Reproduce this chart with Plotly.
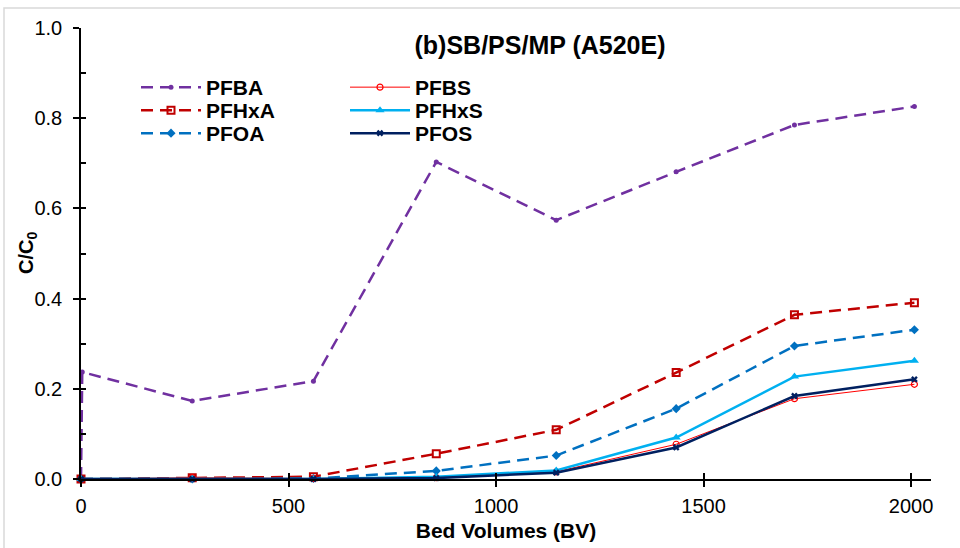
import plotly.graph_objects as go

# ---- data ----
bv = [0, 268, 560, 856, 1145, 1434, 1719, 2008]
bv_pfba = [0, 3, 268, 560, 856, 1145, 1434, 1719, 2008]
pfba = [0.0, 0.237, 0.173, 0.217, 0.703, 0.574, 0.681, 0.785, 0.826]
pfhxa = [0.0, 0.003, 0.005, 0.056, 0.109, 0.236, 0.364, 0.391]
pfoa = [0.0, 0.0, 0.001, 0.018, 0.052, 0.156, 0.295, 0.331]
pfbs = [0.0, 0.003, 0.001, 0.003, 0.016, 0.077, 0.178, 0.210]
pfhxs = [0.0, 0.0, 0.0, 0.005, 0.019, 0.092, 0.227, 0.262]
pfos = [0.0, 0.0, 0.0, 0.002, 0.014, 0.070, 0.184, 0.221]

title_text = "<b>(b)SB/PS/MP (A520E)</b>"
x_title = "<b>Bed Volumes (BV)</b>"
y_title = "<b>C/C<sub>0</sub></b>"

FONT = "Liberation Sans, Arial, sans-serif"

W, H = 960, 548
ML, MR, MT, MB = 81, 29, 28, 69
PW = W - ML - MR
PH = H - MT - MB


def px_x(p):
    return (p - ML) / PW


def px_y(p):
    return (H - MB - p) / PH


fig = go.Figure()

fig.add_trace(go.Scatter(
    x=bv_pfba, y=pfba, name="PFBA", mode="lines+markers", legend="legend",
    line=dict(color="#7030A0", width=2.5, dash="12px,7px"),
    marker=dict(symbol="circle", size=5, color="#7030A0"), cliponaxis=False))
fig.add_trace(go.Scatter(
    x=bv, y=pfhxa, name="PFHxA", mode="lines+markers", legend="legend2",
    line=dict(color="#C00000", width=2.5, dash="12px,7px"),
    marker=dict(symbol="square-open", size=7, color="#C00000", line=dict(width=2)),
    cliponaxis=False))
fig.add_trace(go.Scatter(
    x=bv, y=pfoa, name="PFOA", mode="lines+markers", legend="legend3",
    line=dict(color="#0070C0", width=2.5, dash="12px,7px"),
    marker=dict(symbol="diamond", size=7, color="#0070C0"), cliponaxis=False))
fig.add_trace(go.Scatter(
    x=bv, y=pfbs, name="PFBS", mode="lines+markers", legend="legend4",
    line=dict(color="#FF0000", width=1),
    marker=dict(symbol="circle-open", size=6, color="#FF0000", line=dict(width=1.2)),
    cliponaxis=False))
fig.add_trace(go.Scatter(
    x=bv, y=pfhxs, name="PFHxS", mode="lines+markers", legend="legend5",
    line=dict(color="#00B0F0", width=2.5),
    marker=dict(symbol="triangle-up", size=8, color="#00B0F0"), cliponaxis=False))
fig.add_trace(go.Scatter(
    x=bv, y=pfos, name="PFOS", mode="lines+markers", legend="legend6",
    line=dict(color="#002060", width=2.5),
    marker=dict(symbol="x", size=6, color="#002060"), cliponaxis=False))

# invisible trace to anchor the overlay axes (for crossing ticks)
fig.add_trace(go.Scatter(x=[], y=[], xaxis="x2", yaxis="y2", showlegend=False,
                         hoverinfo="skip"))

XR = [0, 2048]
YR = [0, 1.0]

LEG_FONT = dict(family=FONT, size=21, color="black", weight="bold")


def leg(text_px_x, center_px_y):
    return dict(x=px_x(text_px_x - 71), y=px_y(center_px_y - 21),
                xanchor="left", yanchor="top", bgcolor="rgba(0,0,0,0)",
                itemwidth=60, tracegroupgap=0, font=LEG_FONT)


fig.update_layout(
    width=W, height=H,
    margin=dict(l=ML, r=MR, t=MT, b=MB, autoexpand=False),
    paper_bgcolor="white", plot_bgcolor="white",
    font=dict(family=FONT, color="black", size=20),
    title=dict(text=title_text, xref="paper", x=px_x(540), xanchor="center",
               yref="container", y=1 - 45 / H, yanchor="middle",
               font=dict(family=FONT, size=25, color="black")),
    xaxis=dict(range=XR, dtick=500, tick0=0, showgrid=False, zeroline=False,
               showline=True, linecolor="black", linewidth=1.5, automargin=False,
               ticks="outside", ticklen=6, tickwidth=1.5, tickcolor="black",
               ticklabelstandoff=2,
               tickfont=dict(family=FONT, size=20, color="black"),
               title=dict(text=x_title, standoff=8,
                          font=dict(family=FONT, size=21, color="black"))),
    yaxis=dict(range=YR, dtick=0.2, tick0=0, tickformat=".1f", showgrid=False,
               zeroline=False, showline=True, linecolor="black", linewidth=1.5,
               automargin=False,
               ticks="outside", ticklen=6, tickwidth=1.5, tickcolor="black",
               ticklabelstandoff=7,
               tickfont=dict(family=FONT, size=20, color="black")),
    xaxis2=dict(range=XR, dtick=500, tick0=0, overlaying="x", anchor="y2",
                showgrid=False, zeroline=False, showline=False, automargin=False,
                ticks="inside", ticklen=6, tickwidth=1.5, tickcolor="black",
                showticklabels=False),
    yaxis2=dict(range=YR, dtick=0.1, tick0=0, overlaying="y", anchor="x2",
                showgrid=False, zeroline=False, showline=False, automargin=False,
                ticks="inside", ticklen=5, tickwidth=1.5, tickcolor="black",
                showticklabels=False),
    legend=leg(207, 88),
    legend2=leg(207, 111),
    legend3=leg(207, 134),
    legend4=leg(416, 88),
    legend5=leg(416, 111),
    legend6=leg(416, 134),
    annotations=[dict(text=y_title, xref="paper", yref="paper",
                      x=px_x(27), y=px_y(253), xanchor="center", yanchor="middle",
                      textangle=-90, showarrow=False,
                      font=dict(family=FONT, size=20, color="black"))],
    shapes=[dict(type="rect", xref="paper", yref="paper",
                 x0=px_x(4), x1=px_x(1000), y0=px_y(600), y1=px_y(8),
                 line=dict(color="#D9D9D9", width=1.5), fillcolor="rgba(0,0,0,0)",
                 layer="below")],
    showlegend=True,
)

fig.write_html("out.html")
